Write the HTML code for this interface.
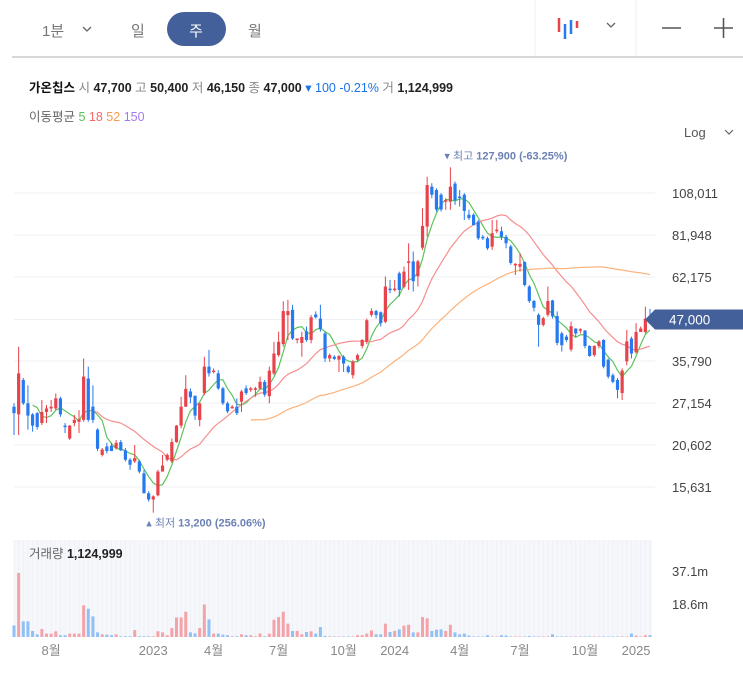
<!DOCTYPE html>
<html><head><meta charset="utf-8"><style>
html,body{margin:0;padding:0;background:#fff;}
body{width:743px;height:670px;overflow:hidden;font-family:"Liberation Sans","Noto Sans CJK KR",sans-serif;}
svg text{font-family:"Liberation Sans","Noto Sans CJK KR",sans-serif;}
</style></head><body>
<svg id="chart" width="743" height="670" viewBox="0 0 743 670" xmlns="http://www.w3.org/2000/svg">
<g>
<text x="42" y="36" font-size="15" fill="#777">1분</text>
<path d="M83 27 l4 4 l4 -4" fill="none" stroke="#666" stroke-width="1.3"/>
<text x="131" y="36" font-size="15" fill="#777">일</text>
<rect x="167" y="12" width="59" height="34" rx="17" fill="#44609a"/>
<text x="196" y="36" font-size="15" fill="#fff" text-anchor="middle">주</text>
<text x="248" y="36" font-size="15" fill="#777">월</text>
<line x1="535" y1="0" x2="535" y2="56" stroke="#f0f0f0"/>
<line x1="636" y1="0" x2="636" y2="56" stroke="#f0f0f0"/>
<g>
<line x1="559" y1="18" x2="559" y2="32" stroke="#e8424a" stroke-width="2.5"/>
<line x1="565" y1="24" x2="565" y2="39" stroke="#2679f0" stroke-width="2.5"/>
<line x1="571" y1="20" x2="571" y2="34" stroke="#2679f0" stroke-width="2.5"/>
<line x1="577" y1="21" x2="577" y2="28" stroke="#e8424a" stroke-width="2.5"/>
</g>
<path d="M607 23 l4 4 l4 -4" fill="none" stroke="#666" stroke-width="1.3"/>
<line x1="662" y1="28" x2="681" y2="28" stroke="#555" stroke-width="1.6"/>
<g><line x1="714" y1="28" x2="733" y2="28" stroke="#555" stroke-width="1.6"/><line x1="723.5" y1="18" x2="723.5" y2="38" stroke="#555" stroke-width="1.6"/></g>
<line x1="12" y1="57" x2="743" y2="57" stroke="#ccc" stroke-width="1.5"/>
</g>
<text x="29" y="92" font-size="12.5"><tspan font-weight="bold" fill="#111">가온칩스</tspan><tspan fill="#888"> 시 </tspan><tspan font-weight="bold" fill="#222">47,700</tspan><tspan fill="#888"> 고 </tspan><tspan font-weight="bold" fill="#222">50,400</tspan><tspan fill="#888"> 저 </tspan><tspan font-weight="bold" fill="#222">46,150</tspan><tspan fill="#888"> 종 </tspan><tspan font-weight="bold" fill="#222">47,000</tspan><tspan fill="#1a73e8"> ▾ 100 -0.21%</tspan><tspan fill="#888"> 거 </tspan><tspan font-weight="bold" fill="#222">1,124,999</tspan></text>
<text x="29" y="121" font-size="12.5"><tspan fill="#666">이동평균 </tspan><tspan fill="#5cc35c">5</tspan><tspan fill="#f46a6a"> 18</tspan><tspan fill="#f89a55"> 52</tspan><tspan fill="#a678f0"> 150</tspan></text>
<text x="684" y="137" font-size="13" fill="#555">Log</text>
<path d="M725 130 l4 4 l4 -4" fill="none" stroke="#666" stroke-width="1.2"/>
<rect x="14" y="540" width="638" height="97" fill="#f6f7fb"/>
<g id="grid"></g>
<g id="vol"></g>
<g id="ma"></g>
<g id="candles"></g>
<g id="axes"></g>
<text x="29" y="558" font-size="12.5"><tspan fill="#666">거래량 </tspan><tspan font-weight="bold" fill="#222">1,124,999</tspan></text>
</svg>
<script>
const opens=[26.5,25.2,31.6,27.1,25.2,25.4,23.8,25.6,26.2,26.2,28.0,23.4,21.5,23.8,24.0,24.3,31.9,26.5,22.8,19.3,20.4,20.5,20.2,21.0,19.9,18.7,18.5,18.5,17.1,15.0,14.4,14.8,17.3,18.7,18.5,21.0,23.4,26.5,29.3,28.5,24.3,29.0,34.5,33.3,33.0,29.9,27.1,26.2,26.5,27.4,29.9,29.6,29.6,29.9,31.2,28.4,33.0,37.2,40.0,48.4,50.1,41.1,40.3,43.5,41.1,48.6,47.3,42.9,36.4,36.8,36.1,36.8,34.5,32.6,36.1,39.5,40.7,48.5,49.7,49.3,46.3,57.6,57.1,63.7,58.3,68.2,68.9,62.5,75.4,86.6,112.6,110.2,106.8,102.0,102.0,114.9,105.5,106.8,93.6,93.6,89.5,81.0,80.2,75.9,84.0,84.0,81.0,76.0,67.1,66.5,68.6,58.4,53.1,48.5,45.4,48.5,53.3,48.1,42.9,42.0,38.6,44.3,43.7,43.7,39.5,37.2,39.5,41.1,36.1,32.6,31.6,29.0,35.7,41.5,37.9,43.3,43.3,47.7];
const closes=[25.4,33.0,27.1,25.0,23.4,23.2,25.6,26.2,26.5,28.0,25.2,23.2,23.4,24.3,24.4,32.3,24.3,24.3,20.1,20.0,19.8,19.8,20.9,19.9,18.7,18.1,18.9,17.3,15.0,14.4,14.7,17.3,18.0,19.3,21.0,23.4,26.5,29.8,28.2,25.0,27.1,34.5,33.0,33.6,29.9,27.1,25.7,26.5,25.4,29.3,29.0,29.9,29.9,31.2,28.7,33.6,37.6,40.6,49.7,49.7,41.5,41.5,41.9,41.1,47.7,47.7,44.1,36.4,37.2,36.3,37.0,35.2,33.3,35.7,37.2,41.1,46.8,49.7,48.4,45.9,58.4,57.1,57.6,57.1,64.4,68.9,60.5,68.9,87.0,113.8,106.8,96.9,96.9,103.0,112.6,103.0,104.5,96.0,91.6,87.4,80.2,80.2,75.1,82.9,84.9,81.0,77.6,68.2,67.8,67.8,59.0,53.1,50.8,45.4,47.4,53.1,48.0,40.3,39.7,41.1,45.0,42.9,44.1,39.5,37.0,39.5,40.7,34.5,32.3,31.2,29.6,33.6,40.7,37.6,43.3,44.3,47.3,47.0];
const highs=[27.1,39.3,32.0,30.5,25.4,25.6,27.7,26.8,27.7,28.9,28.3,23.8,23.5,25.1,25.9,36.4,34.5,30.5,23.0,20.2,20.9,20.9,21.3,21.3,20.2,18.9,20.6,18.7,17.5,15.2,14.8,17.5,19.3,19.5,21.5,23.5,28.3,32.6,29.9,28.3,27.1,36.8,38.5,34.1,33.7,30.2,27.4,26.8,28.0,29.6,30.5,30.2,30.2,32.3,31.6,34.5,40.6,43.4,53.0,53.5,51.8,41.5,43.4,44.9,48.4,49.6,51.8,43.4,37.6,37.2,37.2,37.2,34.8,36.0,37.6,41.3,47.3,50.6,50.1,49.6,62.4,61.0,61.0,64.4,66.6,77.6,73.5,69.6,97.7,120.2,115.2,111.4,107.9,104.4,127.9,116.5,110.2,107.9,96.7,94.6,90.5,82.0,81.1,90.5,90.5,86.6,82.0,76.8,68.1,72.7,68.9,59.0,53.5,49.0,47.9,58.4,53.5,49.6,43.4,42.5,46.4,44.4,44.4,43.9,39.7,39.7,41.1,41.3,36.4,33.0,32.0,34.1,43.9,42.0,45.9,44.9,51.2,50.4];
const lows=[22.0,22.0,26.8,22.8,22.5,22.8,23.5,23.8,25.6,25.9,24.8,22.3,21.3,23.3,22.3,24.0,24.0,23.8,19.8,19.1,19.5,19.8,20.0,19.8,18.5,17.5,18.3,17.1,15.0,14.2,13.2,14.7,17.3,18.5,18.3,20.9,23.0,26.5,27.1,24.3,23.3,28.6,32.3,33.0,29.6,26.8,25.4,26.2,25.1,25.6,28.6,29.2,28.3,29.6,28.3,27.1,32.6,36.8,39.3,41.1,41.1,40.2,36.8,40.6,40.2,47.3,43.4,35.6,35.6,36.0,33.3,33.3,33.0,31.9,35.6,38.9,40.0,47.9,47.3,44.9,45.9,55.9,56.5,54.7,57.7,57.1,56.5,58.4,74.3,81.1,104.4,95.6,95.6,96.7,96.7,99.9,98.8,90.5,90.5,87.6,79.3,79.3,74.3,74.3,82.9,79.3,75.1,67.4,63.0,64.4,58.4,52.4,49.6,39.3,44.9,47.9,47.3,39.7,38.1,40.6,38.1,42.0,42.9,38.9,36.8,36.8,38.9,34.1,31.9,30.9,28.0,27.7,34.8,36.4,37.6,43.4,42.9,46.4];
const volumes=[6.5,36,8.8,8.8,3.4,1.5,4.5,1.9,1.9,3.2,1,1,1.9,1.9,1.9,17.8,15.9,11.6,2.6,1.5,1.3,1,1.5,0.4,0.4,0.4,3.9,0.4,0.4,0.4,0.4,3.2,2.6,1,5,11,11,14.2,2.6,2,5,18.3,9.9,1.9,1.9,1.3,1,0.4,0.4,1.5,1,1,0.4,1.9,0.4,1.9,9.7,11.2,14.2,7.5,3.4,3.4,1.5,2.8,3.2,1.9,5.6,0.6,0.4,0.3,0.3,0.3,0.3,0.3,1,1,1.9,3.7,1.5,1.5,7.5,2.8,3.4,4.3,6.4,6.9,2.6,2.6,11.2,10.5,3.4,4.1,4.3,3.4,6.9,2.6,1.5,1.9,0.8,0.3,0.3,0.3,1,0.3,0.3,1,0.8,0.3,0.3,0.3,0.3,0.5,0.3,0.3,0.3,0.3,1.5,0.3,0.3,0.3,0.3,0.3,0.3,0.3,0.3,0.3,0.3,0.3,0.3,0.3,0.3,0.3,0.3,1.9,0.8,0.3,1,1,1.1];
const priceTicks=[108011,81948,62175,47000,35790,27154,20602,15631];
const priceTickLabels=["108,011","81,948","62,175","47,000","35,790","27,154","20,602","15,631"];
const volTicks=[37.1,18.6];
const volTickLabels=["37.1m","18.6m"];
const timeLabels=["8월","2023","4월","7월","10월","2024","4월","7월","10월","2025"];
const timeLabelIdx=[8,30,43,57,71,82,96,109,123,134];
const maPeriods=[5,18,52];
const maColors=["#5cc35c","#f58f8f","#fbb27a"];

const NS="http://www.w3.org/2000/svg";
const n=closes.length;
const X0=14,X1=650;
function xs(i){return X0+(X1-X0)*i/(n-1);}
function ys(p){return 193+152.1*Math.log(108011/(p*1000));}
function ysRaw(v){return 193+152.1*Math.log(108011/v);}
function yv(v){return 637-v*(33/18.55);}
function mk(tag,attrs,parent){const e=document.createElementNS(NS,tag);for(const k in attrs)e.setAttribute(k,attrs[k]);parent.appendChild(e);return e;}
const grid=document.getElementById('grid'),vol=document.getElementById('vol'),ma=document.getElementById('ma'),cg=document.getElementById('candles'),ax=document.getElementById('axes');
priceTicks.forEach((t,k)=>{
  const y=ysRaw(t);
  const l=mk('line',{x1:14,x2:655,y1:y,y2:y,stroke:'#eef0f5'},grid);
  
  
  if(t===47000)return;
  const tx=mk('text',{x:672,y:y+5,'font-size':13,fill:'#444'},ax);
  tx.textContent=priceTickLabels[k];
  
  
});
for(let i=0;i<n;i++){
  const l=mk('line',{x1:xs(i),x2:xs(i),y1:540,y2:637,stroke:'#eef0f7','stroke-width':0.8},grid);
  
  
}
volTicks.forEach((t,k)=>{
  const tx=mk('text',{x:672,y:yv(t)+5,'font-size':13,fill:'#444'},ax);
  tx.textContent=volTickLabels[k];
  
  
});
timeLabels.forEach((t,k)=>{
  const tx=mk('text',{x:xs(timeLabelIdx[k]),y:655,'font-size':13,fill:'#888','text-anchor':'middle'},ax);
  tx.textContent=t;
  
  
});
for(let i=0;i<n;i++){
  const up=closes[i]>=opens[i];
  const y=yv(volumes[i]);
  const r=mk('rect',{x:xs(i)-1.5,y:y,width:3,height:637-y,fill:up?'#f4a3a8':'#8fc0f6'},vol);
  
  
}
maPeriods.forEach((p,k)=>{
  let d='';
  for(let i=p-1;i<n;i++){let s=0;for(let j=i-p+1;j<=i;j++)s+=closes[j];d+=(d?'L':'M')+xs(i).toFixed(1)+' '+ys(s/p).toFixed(1);}
  const pa=mk('path',{d:d,fill:'none',stroke:maColors[k],'stroke-width':1.2},ma);
  
  
});
for(let i=0;i<n;i++){
  const up=closes[i]>=opens[i];const col=up?'#e8424a':'#2679f0';
  const g=mk('g',{},cg);
  
  
  mk('line',{x1:xs(i),x2:xs(i),y1:ys(highs[i]),y2:ys(lows[i]),stroke:col,'stroke-width':1},g);
  const yt=ys(Math.max(opens[i],closes[i])),yb=ys(Math.min(opens[i],closes[i]));
  mk('rect',{x:xs(i)-1.6,y:yt,width:3.2,height:Math.max(1.5,yb-yt),fill:col},g);
}
let hi=0,lo=0;for(let i=0;i<n;i++){if(highs[i]>highs[hi])hi=i;if(lows[i]<lows[lo])lo=i;}
const ah=mk('text',{x:xs(hi)-6,y:ys(highs[hi])-8,'font-size':11,fill:'#6b80b5'},ax);
ah.innerHTML='▾ 최고 <tspan font-weight="bold">127,900 (-63.25%)</tspan>';


const al=mk('text',{x:xs(lo)-7,y:ys(lows[lo])+14,'font-size':11,fill:'#6b80b5'},ax);
al.innerHTML='▴ 최저 <tspan font-weight="bold">13,200 (256.06%)</tspan>';


const cy=ys(closes[n-1]);
const tag=mk('path',{d:`M645 ${cy} L655 ${cy-10} L743 ${cy-10} L743 ${cy+10} L655 ${cy+10} Z`,fill:'#44609a'},ax);


const tt=mk('text',{x:669,y:cy+5,'font-size':13.5,fill:'#fff'},ax);
tt.textContent='47,000';


</script>
</body></html>
